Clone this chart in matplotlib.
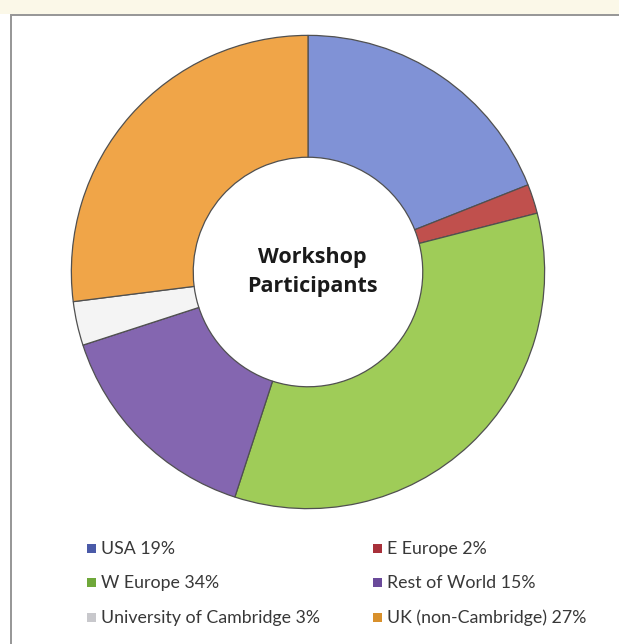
import matplotlib
matplotlib.use("Agg")
import matplotlib.pyplot as plt
from matplotlib.patches import Rectangle

labels = ["USA", "E Europe", "W Europe", "Rest of World", "University of Cambridge", "UK (non-Cambridge)"]
values = [19, 2, 34, 15, 3, 27]
colors = ["#8092d6", "#c0504d", "#9fcc58", "#8466b0", "#f4f4f4", "#f0a548"]
marker_colors = ["#4a5aa8", "#a8303a", "#6fa83a", "#6a4a9a", "#c8c8cc", "#d8902c"]
title = "Workshop\nParticipants"

W, H = 619, 644
fig = plt.figure(figsize=(W/100, H/100), dpi=100)
fig.patch.set_facecolor("white")

# top cream strip and frame
fig.patches.append(Rectangle((0, 1 - 14/H), 1, 14/H, transform=fig.transFigure,
                             facecolor="#fbf8e8", edgecolor="none", zorder=-10))
fig.patches.append(Rectangle((11/W, -0.01), 1, 1 - 15/H + 0.01, transform=fig.transFigure,
                             facecolor="white", edgecolor="#969696", linewidth=1.4, zorder=-9))

cx, cy, r = 308, 272, 239
ax = fig.add_axes([(cx - r)/W, 1 - (cy + r)/H, 2*r/W, 2*r/H])
wedges, _ = ax.pie(values, colors=colors, startangle=90, counterclock=False,
                   radius=1.0, wedgeprops=dict(width=0.515, edgecolor="#505050", linewidth=0.9))
ax.set_xlim(-1.01, 1.01)
ax.set_ylim(-1.01, 1.01)
ax.set_aspect("equal")
ax.axis("off")
ax.text(0.02, 0.0, title, ha="center", va="center", fontsize=15.5, fontweight="bold",
        color="#1a1a1a", linespacing=1.55, family="Open Sans")

# legend laid out row-major in two columns
col_x = [87, 373]
row_y = [549, 583, 618]
for i, (lab, val) in enumerate(zip(labels, values)):
    col = i % 2
    row = i // 2
    x, y = col_x[col], row_y[row]
    fig.patches.append(Rectangle((x/W, 1 - (y + 4)/H), 9/W, 9/H, transform=fig.transFigure,
                                 facecolor=marker_colors[i], edgecolor="none"))
    fig.text((x + 14)/W, 1 - y/H, f"{lab} {val}%", ha="left", va="center",
             fontsize=12.8, family="Lato", color="#383838")

fig.savefig("out.png", dpi=100)
